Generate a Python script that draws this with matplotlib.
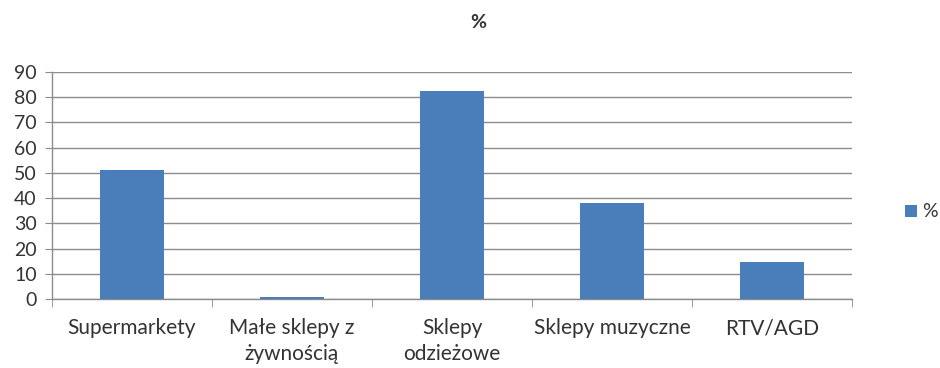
import matplotlib
matplotlib.use("Agg")
import matplotlib.pyplot as plt
from matplotlib.patches import Rectangle

plt.rcParams["font.family"] = ["Lato", "DejaVu Sans"]

categories = ["Supermarkety", "Małe sklepy z\nżywnością", "Sklepy\nodzieżowe", "Sklepy muzyczne", "RTV/AGD"]
values = [51, 0.8, 82.5, 38, 14.5]
y_ticks = [0, 10, 20, 30, 40, 50, 60, 70, 80, 90]

BAR_COLOR = "#4a7ebb"
GRID_COLOR = "#8c8c8c"
TEXT_COLOR = "#333333"

fig = plt.figure(figsize=(9.4, 3.68), dpi=100)
ax = fig.add_axes([52 / 940, 1 - 299 / 368, 800 / 940, 227 / 368])

x = list(range(len(categories)))
ax.bar(x, values, width=0.4, color=BAR_COLOR, zorder=3)

ax.set_xlim(-0.5, len(categories) - 0.5)
ax.set_ylim(0, 90)
ax.set_yticks(y_ticks)
ax.set_yticklabels([str(v) for v in y_ticks], fontsize=14, color=TEXT_COLOR)
ax.yaxis.grid(True, color=GRID_COLOR, linewidth=1.0, zorder=0)

# category labels centred under each bar, ticks at the boundaries
ax.set_xticks(x)
ax.set_xticklabels(categories, fontsize=15, color=TEXT_COLOR, linespacing=1.35)
ax.tick_params(axis="x", length=0, pad=14)
ax.set_xticks([i - 0.5 for i in range(len(categories) + 1)], minor=True)
ax.tick_params(axis="x", which="minor", length=6, color=GRID_COLOR, direction="out")
ax.tick_params(axis="y", length=5, color=GRID_COLOR, direction="out", pad=6)

for side in ["top", "right"]:
    ax.spines[side].set_visible(False)
for side in ["left", "bottom"]:
    ax.spines[side].set_color(GRID_COLOR)
    ax.spines[side].set_linewidth(1.0)

fig.text(478 / 940, 1 - 22 / 368, "%", ha="center", va="center", fontsize=14, fontweight="bold", color=TEXT_COLOR)

# legend entry on the right
fig.patches.append(Rectangle((905 / 940, 1 - 217 / 368), 12 / 940, 12 / 368,
                             transform=fig.transFigure, facecolor=BAR_COLOR, edgecolor="none"))
fig.text(922 / 940, 1 - 211 / 368, "%", ha="left", va="center", fontsize=14, color=TEXT_COLOR)

fig.savefig("out.png", dpi=100)
